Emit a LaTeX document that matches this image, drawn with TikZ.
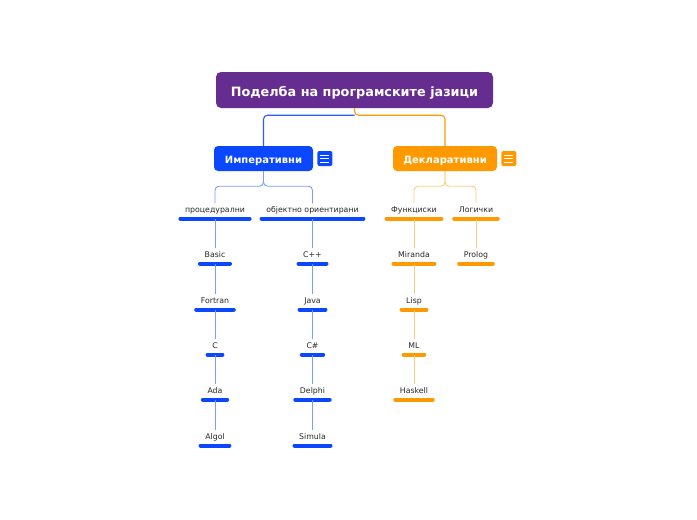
\documentclass[tikz,border=0pt]{standalone}
\usepackage{fontspec}
\setmainfont{DejaVu Sans}
\usetikzlibrary{positioning}

\definecolor{rootpurple}{HTML}{662D91}
\definecolor{impblue}{HTML}{0A47FF}
\definecolor{impline}{HTML}{2A5CFF}
\definecolor{implight}{HTML}{7A9CFF}
\definecolor{declorange}{HTML}{FF9900}
\definecolor{decllight}{HTML}{FFCB7A}

% leaf: name, x, y, text, colour
\newcommand{\leaf}[5]{%
  \node[leaf] (#1) at (#2,#3) {#4};
  \draw[bar, #5] ([yshift=-9.5pt]#1.west) -- ([yshift=-9.5pt]#1.east);
  \coordinate (#1-b) at ([yshift=-9.5pt]#1.center);
}

\begin{document}
\begin{tikzpicture}[
  x=1pt, y=-1pt,
  rootbox/.style={fill=rootpurple, rounded corners=5pt, text=white, font=\bfseries\fontsize{12.8}{14}\selectfont,
    minimum width=277pt, minimum height=36pt, inner sep=0pt, text height=12pt, text depth=0pt},
  mainbox/.style={rounded corners=4pt, text=white, font=\bfseries\fontsize{10}{12}\selectfont,
    minimum height=25pt, inner sep=0pt, text height=9pt, text depth=0pt},
  menuicon/.style={rounded corners=2pt, minimum size=15pt, inner sep=0pt},
  leaf/.style={font=\fontsize{7.8}{9}\selectfont, text=black!85, inner xsep=4.5pt, inner ysep=2pt,
    text height=7pt, text depth=0pt},
  bar/.style={line width=4pt, line cap=round},
  conn/.style={line width=1.1pt, rounded corners=4pt},
  thin/.style={line width=0.9pt, rounded corners=4pt},
]
\useasboundingbox (0,0) rectangle (697,520);

% ---------- root and main branches ----------
\node[rootbox] (root) at (354.5,90) {Поделба на програмските јазици};
\node[mainbox, fill=impblue, minimum width=99pt] (imp) at (263.5,158.5) {Императивни};
\node[mainbox, fill=declorange, minimum width=104pt] (decl) at (445,158.5) {Декларативни};

\node[menuicon, fill=impblue, right=4pt of imp] (impmenu) {};
\node[menuicon, fill=declorange, right=4pt of decl] (declmenu) {};
\foreach \m in {impmenu, declmenu}
  \foreach \dy in {-3.5,0,3.5}
    \draw[white, line width=0.8pt] ([xshift=-4.5pt, yshift=\dy pt]\m.center) -- ([xshift=4.5pt, yshift=\dy pt]\m.center);

\draw[conn, declorange] (root.south) -- ++(0,7) -| (decl.north);
\draw[conn, impline] ([yshift=-7pt]root.south) -| (imp.north);

% ---------- imperative ----------
\leaf{proc}{215}{209}{процедурални}{impblue}
\leaf{obj}{312.5}{209}{објектно ориентирани}{impblue}
\draw[thin, implight] (imp.south) -- ++(0,15) -| (proc.north);
\draw[thin, implight] (imp.south) -- ++(0,15) -| (obj.north);

\leaf{basic}{215}{254}{Basic}{impblue}
\leaf{fortran}{215}{300}{Fortran}{impblue}
\leaf{c}{215}{345}{C}{impblue}
\leaf{ada}{215}{390}{Ada}{impblue}
\leaf{algol}{215}{436}{Algol}{impblue}

\leaf{cpp}{312.5}{254}{C++}{impblue}
\leaf{java}{312.5}{300}{Java}{impblue}
\leaf{csharp}{312.5}{345}{C\#}{impblue}
\leaf{delphi}{312.5}{390}{Delphi}{impblue}
\leaf{simula}{312.5}{436}{Simula}{impblue}

\foreach \a/\b in {proc/basic, basic/fortran, fortran/c, c/ada, ada/algol,
                   obj/cpp, cpp/java, java/csharp, csharp/delphi, delphi/simula}
  \draw[thin, implight] (\a-b) -- (\b.north);

% ---------- declarative ----------
\leaf{func}{414}{209}{Функциски}{declorange}
\leaf{logic}{476}{209}{Логички}{declorange}
\draw[thin, decllight] (decl.south) -- ++(0,15) -| (func.north);
\draw[thin, decllight] (decl.south) -- ++(0,15) -| (logic.north);

\leaf{miranda}{414}{254}{Miranda}{declorange}
\leaf{lisp}{414}{300}{Lisp}{declorange}
\leaf{ml}{414}{345}{ML}{declorange}
\leaf{haskell}{414}{390}{Haskell}{declorange}
\leaf{prolog}{476}{254}{Prolog}{declorange}

\foreach \a/\b in {func/miranda, miranda/lisp, lisp/ml, ml/haskell, logic/prolog}
  \draw[thin, decllight] (\a-b) -- (\b.north);
\end{tikzpicture}
\end{document}
